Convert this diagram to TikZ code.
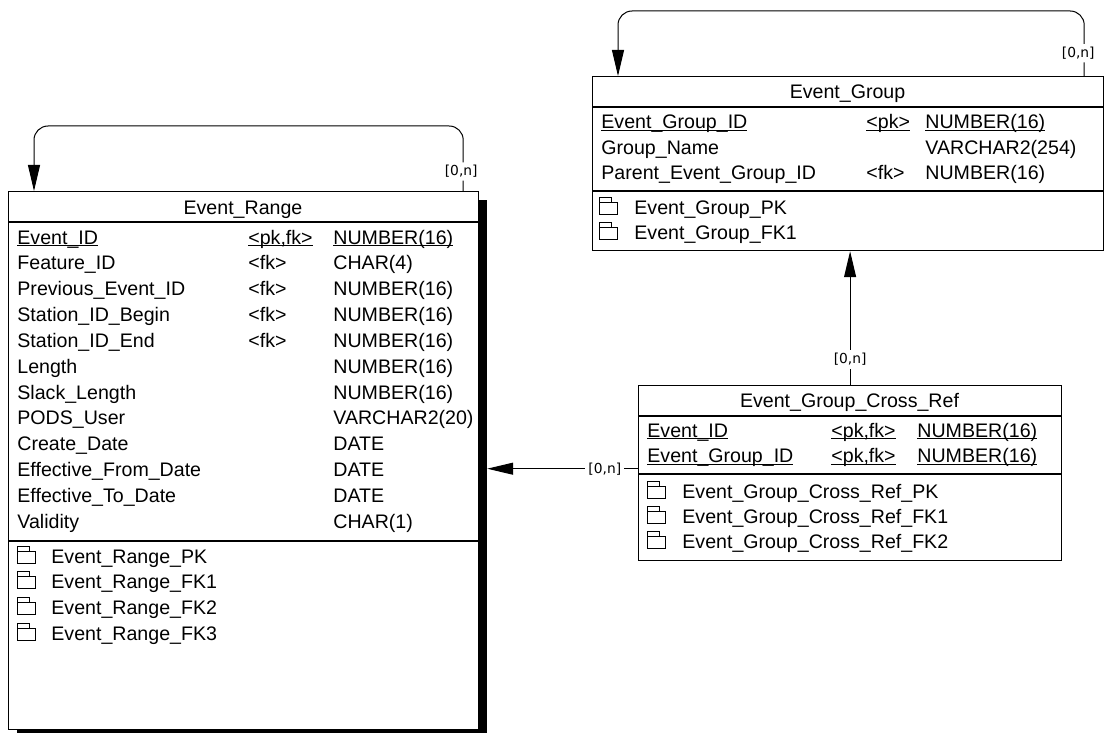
\documentclass[tikz,border=0pt]{standalone}
\usepackage{fontspec}
\setmainfont{Liberation Sans}
\newfontfamily\cardfont{DejaVu Sans}
\usetikzlibrary{arrows.meta}
\usetikzlibrary{shadows}

\newcommand{\pkul}[1]{\setbox0\hbox{#1}\rlap{\rule[-1.2pt]{\wd0}{0.6pt}}\box0}

\begin{document}
\begin{tikzpicture}[x=0.5pt, y=-0.5pt, font=\fontsize{9.8}{12}\selectfont,
    table/.style={draw, line width=0.6pt, fill=white, anchor=north west, inner sep=0pt},
    field/.style={anchor=base west, inner sep=0pt},
    title/.style={anchor=base, inner sep=0pt},
    card/.style={fill=white, inner sep=1.5pt, font=\cardfont\fontsize{6.9}{8}\selectfont},
    rel/.style={line width=0.5pt, -{Triangle[length=13pt,width=6pt]}},
    keyicon/.pic={\draw[line width=0.4pt] (0,7) -- (0,-10) -- (12,-10) -- (12,-5) -- (18,-5) -- (18,7) -- cycle (0,-5) -- (12,-5);}]
    \useasboundingbox (0,0) rectangle (1104,733);

    \node[table, minimum width=235pt, minimum height=269pt,
          drop shadow={shadow xshift=4pt, shadow yshift=-4pt, fill=black, opacity=1}] (er) at (8,191) {};
    \draw[line width=0.6pt] ([yshift=-15.5pt]er.north west) -- ([yshift=-15.5pt]er.north east);
    \draw[line width=0.6pt] ([yshift=-175pt]er.north west) -- ([yshift=-175pt]er.north east);
    \coordinate (ershadow) at ([xshift=4pt]er.east);
    \node[title] (er-title) at (243,214) {Event\_Range};
    \node[field] (er-n0) at (17,244) {\pkul{Event\_ID}};
    \node[field] (er-k0) at (248,244) {\pkul{<pk,fk>}};
    \node[field] (er-t0) at (333,244) {\pkul{NUMBER(16)}};
    \foreach \n/\k/\t [count=\i from 1] in {Feature\_ID/<fk>/CHAR(4), Previous\_Event\_ID/<fk>/NUMBER(16),
        Station\_ID\_Begin/<fk>/NUMBER(16), Station\_ID\_End/<fk>/NUMBER(16), Length//NUMBER(16),
        Slack\_Length//NUMBER(16), PODS\_User//VARCHAR2(20), Create\_Date//DATE,
        Effective\_From\_Date//DATE, Effective\_To\_Date//DATE, Validity//CHAR(1)} {
        \node[field] (er-n\i) at (17,244+25.85*\i) {\n};
        \node[field] (er-k\i) at (248,244+25.85*\i) {\k};
        \node[field] (er-t\i) at (333,244+25.85*\i) {\t};
    }
    \foreach \x [count=\i from 0] in {PK,FK1,FK2,FK3} {
        \pic at (17,556+25.8*\i) {keyicon};
        \node[field] (er-x\i) at (51,563+25.8*\i) {Event\_Range\_\x};
    }

    \node[table, minimum width=255.5pt, minimum height=87pt] (eg) at (592,76) {};
    \draw[line width=0.6pt] ([yshift=-15.5pt]eg.north west) -- ([yshift=-15.5pt]eg.north east);
    \draw[line width=0.6pt] ([yshift=-57.5pt]eg.north west) -- ([yshift=-57.5pt]eg.north east);
    \node[title] (eg-title) at (847.5,99) {Event\_Group};
    \node[field] (eg-n0) at (601,129) {\pkul{Event\_Group\_ID}};
    \node[field] (eg-k0) at (866,129) {\pkul{<pk>}};
    \node[field] (eg-t0) at (925,129) {\pkul{NUMBER(16)}};
    \foreach \n/\k/\t [count=\i from 1] in {Group\_Name//VARCHAR2(254), Parent\_Event\_Group\_ID/<fk>/NUMBER(16)} {
        \node[field] (eg-n\i) at (601,129+25.5*\i) {\n};
        \node[field] (eg-k\i) at (866,129+25.5*\i) {\k};
        \node[field] (eg-t\i) at (925,129+25.5*\i) {\t};
    }
    \foreach \x [count=\i from 0] in {PK,FK1} {
        \pic at (599,207+25.5*\i) {keyicon};
        \node[field] (eg-x\i) at (634,214+25.5*\i) {Event\_Group\_\x};
    }

    \node[table, minimum width=211.5pt, minimum height=87.5pt] (xr) at (638,385) {};
    \draw[line width=0.6pt] ([yshift=-15.5pt]xr.north west) -- ([yshift=-15.5pt]xr.north east);
    \draw[line width=0.6pt] ([yshift=-44.5pt]xr.north west) -- ([yshift=-44.5pt]xr.north east);
    \node[title] (xr-title) at (849.5,407) {Event\_Group\_Cross\_Ref};
    \foreach \n [count=\i from 0] in {Event\_ID,Event\_Group\_ID} {
        \node[field] (xr-n\i) at (647,437+25.5*\i) {\pkul{\n}};
        \node[field] (xr-k\i) at (831,437+25.5*\i) {\pkul{<pk,fk>}};
        \node[field] (xr-t\i) at (917,437+25.5*\i) {\pkul{NUMBER(16)}};
    }
    \foreach \x [count=\i from 0] in {PK,FK1,FK2} {
        \pic at (647,491+25*\i) {keyicon};
        \node[field] (xr-x\i) at (682,498+25*\i) {Event\_Group\_Cross\_Ref\_\x};
    }
    \coordinate (xrin) at ([yshift=2.2pt]xr.west);

    \draw[rel, rounded corners=7pt] ([xshift=-8pt]er.north east) -- node[card, pos=0.3, xshift=-1pt] (c1) {[0,n]} ++(0,-65) -| ([xshift=13pt]er.north west);
    \draw[rel, rounded corners=7pt] ([xshift=-10pt]eg.north east) -- node[card, pos=0.35, xshift=-3pt] (c2) {[0,n]} ++(0,-65) -| ([xshift=13pt]eg.north west);
    \draw[rel] (xrin) -- node[card, pos=0.22] (c3) {[0,n]} (xrin -| ershadow);
    \draw[rel] (xr.north) -- node[card, pos=0.19] (c4) {[0,n]} (xr.north |- eg.south);
\end{tikzpicture}
\end{document}
